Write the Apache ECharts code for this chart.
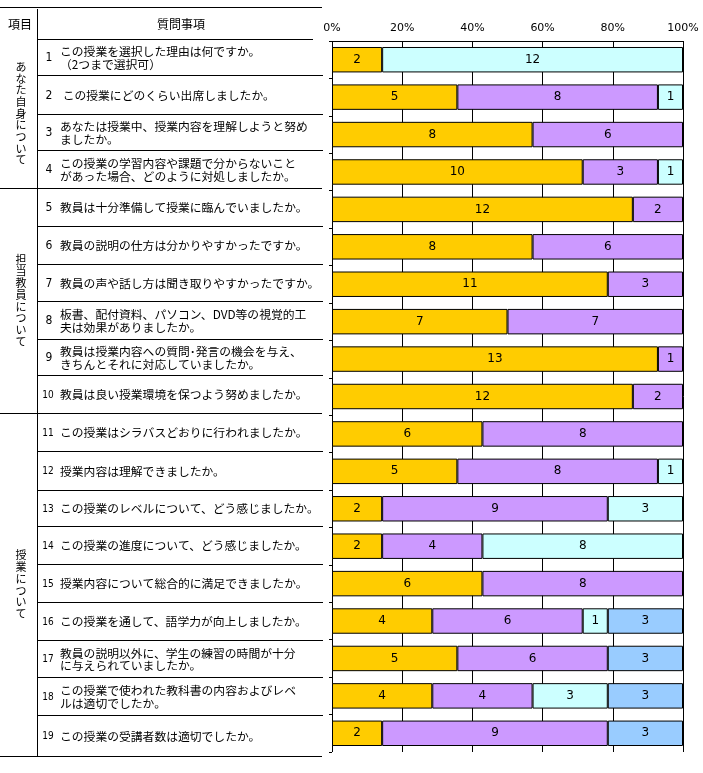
<!DOCTYPE html>
<html>
<head>
<meta charset="utf-8">
<script src="https://cdn.jsdelivr.net/npm/echarts@6/dist/echarts.min.js"></script>
<style>
html,body{margin:0;padding:0;background:#fff;}
#chart{width:703px;height:773px;}
</style>
</head>
<body>
<div id="chart"></div>
<script>
// ---- data ----
const categories = ['1','2','3','4','5','6','7','8','9','10','11','12','13','14','15','16','17','18','19'];
const questions = [
  'この授業を選択した理由は何ですか。\n（2つまで選択可）',
  ' この授業にどのくらい出席しましたか。',
  'あなたは授業中、授業内容を理解しようと努め\nましたか。',
  'この授業の学習内容や課題で分からないこと\nがあった場合、どのように対処しましたか。',
  '教員は十分準備して授業に臨んでいましたか。',
  '教員の説明の仕方は分かりやすかったですか。',
  '教員の声や話し方は聞き取りやすかったですか。',
  '板書、配付資料、パソコン、DVD等の視覚的工\n夫は効果がありましたか。',
  '教員は授業内容への質問･発言の機会を与え、\nきちんとそれに対応していましたか。',
  '教員は良い授業環境を保つよう努めましたか。',
  'この授業はシラバスどおりに行われましたか。',
  '授業内容は理解できましたか。',
  'この授業のレベルについて、どう感じましたか。',
  'この授業の進度について、どう感じましたか。',
  '授業内容について総合的に満足できましたか。',
  'この授業を通して、語学力が向上しましたか。',
  '教員の説明以外に、学生の練習の時間が十分\nに与えられていましたか。',
  'この授業で使われた教科書の内容およびレベ\nルは適切でしたか。',
  'この授業の受講者数は適切でしたか。'
];
const groupNames = ['あなた自身について', '担当教員について', '授業について'];
const groupFirstRow = [1, 5, 11];
const groupLastRow = [4, 10, 19];
const headerLabels = ['項目', '質問事項'];
const tickLabels = ['0%','20%','40%','60%','80%','100%'];
const seriesA = [2,5,8,10,12,8,11,7,13,12,6,5,2,2,6,4,5,4,2];
const seriesB = [0,8,6,3,2,6,3,7,1,2,8,8,9,4,8,6,6,4,9];
const seriesC = [12,1,0,1,0,0,0,0,0,0,0,1,3,8,0,1,0,3,0];
const seriesD = [0,0,0,0,0,0,0,0,0,0,0,0,0,0,0,3,3,3,3];

// ---- layout (not data) ----
const rowLines = [39,75,114,150,188,226,264,301,339,375,413,451,490,526,564,602,640,677,715,756];
const colors = ['#FFCC00','#CC99FF','#CCFFFF','#99CCFF'];
const JP = '"Noto Sans CJK JP", sans-serif';

const allSeries = [seriesA, seriesB, seriesC, seriesD];
const totals = categories.map((c, i) => allSeries.reduce((s, a) => s + a[i], 0));

const chart = echarts.init(document.getElementById('chart'), null, {renderer: 'canvas'});

const series = allSeries.map((arr, k) => ({
  name: 'S' + (k + 1),
  type: 'bar',
  stack: 'total',
  barWidth: '68%',
  z: 3,
  itemStyle: {color: colors[k], borderColor: '#000', borderWidth: 1},
  label: {
    show: true,
    position: 'inside',
    color: '#000',
    fontSize: 12,
    fontFamily: 'DejaVu Sans, sans-serif',
    formatter: p => String(arr[p.dataIndex])
  },
  data: arr.map((v, i) => v === 0 ? null : v * 100 / totals[i])
}));

// table graphics
const g = [];
function line(x1, y1, x2, y2) {
  g.push({type: 'line', silent: true, shape: {x1, y1, x2, y2}, style: {stroke: '#000', lineWidth: 1}});
}
function text(x, y, t, opts) {
  g.push({type: 'text', silent: true, x, y, style: Object.assign({
    text: t, fill: '#000', fontSize: 12, fontFamily: JP, align: 'left', verticalAlign: 'middle', lineHeight: 12
  }, opts || {})});
}
line(0, 7.5, 322, 7.5);
line(37.5, 9, 37.5, 757);
line(37, rowLines[0] + 0.5, 313, rowLines[0] + 0.5);
for (let k = 1; k < rowLines.length; k++) {
  const y = rowLines[k] + 0.5;
  if (groupLastRow.includes(k)) line(0, y, 322, y);
  else line(37, y, 323, y);
}
text(8, 24, headerLabels[0], {align: 'left'});
text(181, 24, headerLabels[1], {align: 'center'});
categories.forEach((c, i) => {
  const yc = (rowLines[i] + rowLines[i + 1]) / 2 + 1;
  const two = c.length > 1;
  text(two ? 48 : 49, yc, c, {align: 'center', fontSize: two ? 10 : 12, fontFamily: 'DejaVu Sans Condensed, sans-serif'});
  text(60, yc, questions[i], {lineHeight: 12.5, fontSize: 11.8});
});
groupNames.forEach((name, j) => {
  const yTop = rowLines[groupFirstRow[j] - 1];
  const yBot = rowLines[groupLastRow[j]];
  const yc = (yTop + yBot) / 2;
  text(21, yc, name.split('').join('\n'), {align: 'center', fontSize: 11, lineHeight: 11.7});
});

chart.setOption({
  animation: false,
  backgroundColor: '#fff',
  grid: {left: 332, top: 41, width: 351, height: 711, containLabel: false},
  xAxis: {
    type: 'value', position: 'top', min: 0, max: 100, interval: 20,
    axisLine: {show: true, lineStyle: {color: '#000', width: 1}},
    axisTick: {show: false},
    splitLine: {show: true, showMinLine: true, showMaxLine: true, lineStyle: {color: '#000', width: 1, type: 'solid', opacity: 1}},
    axisLabel: {
      color: '#000', fontSize: 11, margin: 7, fontFamily: 'DejaVu Sans, sans-serif',
      formatter: v => tickLabels[Math.round(v / 20)]
    }
  },
  yAxis: {
    type: 'category', data: categories, inverse: true, position: 'right',
    axisLine: {show: false},
    axisTick: {show: true, inside: true, length: 3, lineStyle: {color: '#000'}},
    axisLabel: {show: false},
    splitLine: {show: false}
  },
  series: series,
  graphic: g
});
</script>
</body>
</html>
